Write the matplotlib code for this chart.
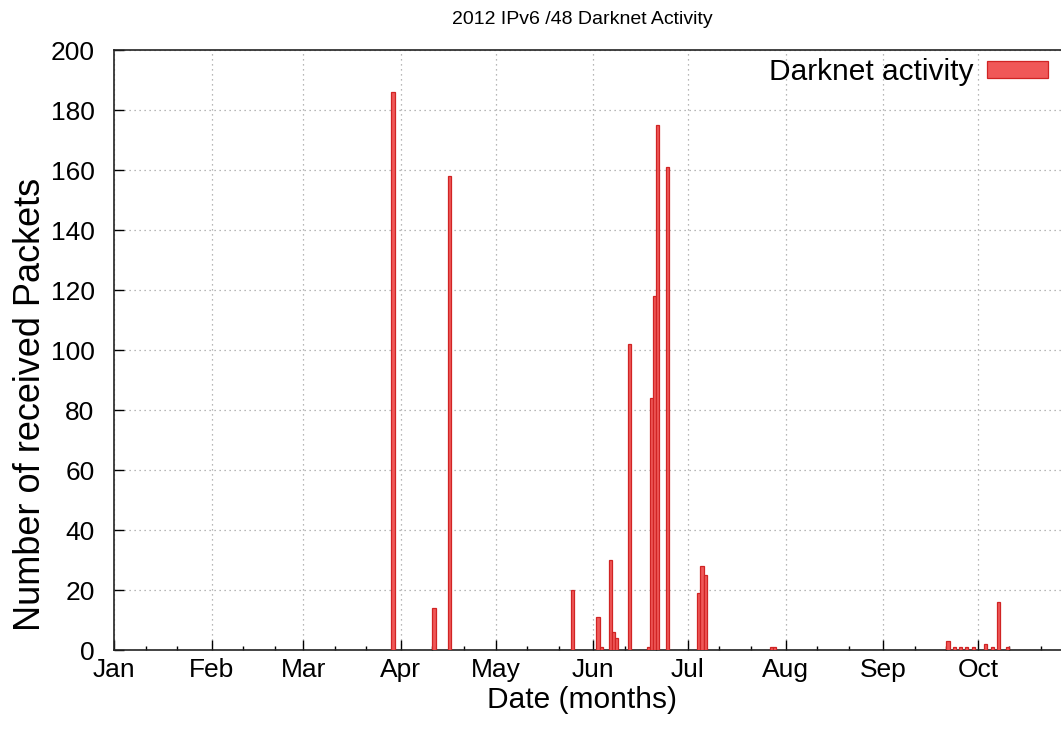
import matplotlib
matplotlib.use("Agg")
import matplotlib.pyplot as plt
import matplotlib.dates as mdates
import numpy as np
import pandas as pd

# ---- data ----
dates = ['2012-03-29', '2012-04-11', '2012-04-16', '2012-05-25',
         '2012-06-02', '2012-06-03', '2012-06-06', '2012-06-07', '2012-06-08',
         '2012-06-12', '2012-06-18', '2012-06-19', '2012-06-20', '2012-06-21',
         '2012-06-24', '2012-07-04', '2012-07-05', '2012-07-06',
         '2012-07-27', '2012-07-28',
         '2012-09-21', '2012-09-23', '2012-09-25', '2012-09-27', '2012-09-29',
         '2012-10-03', '2012-10-05', '2012-10-07', '2012-10-10']
packets = [186, 14, 158, 20,
           11, 1, 30, 6, 4,
           102, 1, 84, 118, 175,
           161, 19, 28, 25,
           1, 1,
           3, 1, 1, 1, 1,
           2, 1, 16, 1]
y_ticks = [0, 20, 40, 60, 80, 100, 120, 140, 160, 180, 200]
title = "2012 IPv6 /48 Darknet Activity"
xlabel = "Date (months)"
ylabel = "Number of received Packets"
series_label = "Darknet activity"

plt.rcParams['font.family'] = ['Liberation Sans', 'DejaVu Sans']

W, H = 1061, 741
fig = plt.figure(figsize=(W / 100, H / 100), dpi=100)
left, bottom, top = 114, 650, 50.5
ax = fig.add_axes([left / W, (H - bottom) / H, 1 - left / W, (bottom - top) / H])

x = mdates.date2num(pd.to_datetime(dates)) + 0.5
ax.bar(x, packets, width=1.0, align='center', color='#f05858',
       edgecolor='#d02424', linewidth=0.9, label=series_label, zorder=3)

x0 = mdates.date2num(pd.Timestamp('2012-01-01'))
ax.set_xlim(x0, x0 + (W - left) / 3.153)
ax.set_ylim(0, 200)
ax.set_yticks(y_ticks)

ax.xaxis.set_major_locator(mdates.MonthLocator())
ax.xaxis.set_major_formatter(mdates.DateFormatter('%b'))
ax.xaxis.set_minor_locator(mdates.DayLocator(bymonthday=[11, 21]))

ax.tick_params(axis='both', which='major', direction='in', length=7.2,
               width=1.0, color='black', labelsize=19, pad=8)
ax.tick_params(axis='x', which='major', pad=6)
ax.tick_params(axis='x', which='minor', direction='in', length=3, width=1.0)
ax.tick_params(axis='y', which='major', pad=14)

ax.grid(True, which='major', linestyle=(0, (1, 3)), color='#a0a0a0', linewidth=0.9, zorder=0)
ax.set_axisbelow(True)

for s in ['left', 'bottom', 'top']:
    ax.spines[s].set_linewidth(1.2)
    ax.spines[s].set_color('#222222')
ax.spines['right'].set_visible(False)

fig.text(582 / W, 1 - 20 / H, title, ha='center', va='center', fontsize=14)
fig.text(582 / W, 1 - 700 / H, xlabel, ha='center', va='center', fontsize=21.5)
fig.text(31 / W, 1 - 404 / H, ylabel, ha='center', va='center', rotation=90, fontsize=26)

leg = ax.legend(loc='upper right', bbox_to_anchor=(1048 / W, 1 - 58 / H),
                bbox_transform=fig.transFigure, frameon=False, markerfirst=False,
                fontsize=21.5, handlelength=2.05, handleheight=0.5, handletextpad=0.45,
                borderpad=0, borderaxespad=0)

fig.savefig('out.png', dpi=100)
